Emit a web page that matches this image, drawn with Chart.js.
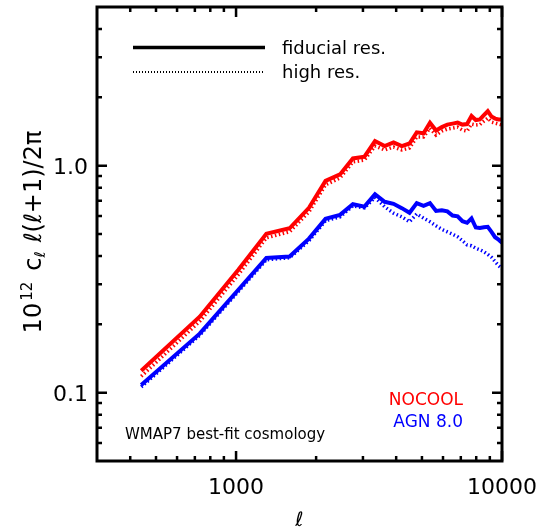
<!DOCTYPE html>
<html>
<head>
<meta charset="utf-8">
<script src="https://cdn.jsdelivr.net/npm/chart.js@4.4.0/dist/chart.umd.min.js"></script>
<style>
  html, body { margin: 0; padding: 0; background: #fff; }
</style>
</head>
<body>
<canvas id="cl-chart" width="541" height="530"></canvas>
<script>
/* ── DATA ── */
const ell = [440, 730, 1020, 1300, 1590, 1880, 2170, 2460, 2750, 3040, 3330, 3620,
             3910, 4200, 4490, 4780, 5070, 5360, 5650, 5940, 6230, 6520, 6810, 7100,
             7390, 7680, 7970, 8260, 8550, 8840, 9130, 9420, 9710, 10000];

const nocoolFid  = [0.125, 0.216, 0.348, 0.501, 0.530, 0.652, 0.857, 0.915, 1.076, 1.095, 1.284, 1.220,
                    1.267, 1.220, 1.252, 1.402, 1.388, 1.545, 1.428, 1.479, 1.517, 1.532, 1.548, 1.517,
                    1.525, 1.654, 1.588, 1.599, 1.670, 1.739, 1.645, 1.612, 1.599, 1.596];
const nocoolHigh = [0.118, 0.206, 0.331, 0.481, 0.511, 0.626, 0.823, 0.883, 1.038, 1.059, 1.220, 1.172,
                    1.208, 1.172, 1.196, 1.337, 1.337, 1.464, 1.364, 1.420, 1.450, 1.464, 1.479, 1.435,
                    1.420, 1.525, 1.510, 1.517, 1.572, 1.620, 1.556, 1.540, 1.525, 1.510];
const agnFid     = [0.108, 0.182, 0.284, 0.392, 0.398, 0.477, 0.583, 0.607, 0.676, 0.660, 0.749, 0.693,
                    0.679, 0.650, 0.620, 0.684, 0.665, 0.684, 0.632, 0.636, 0.629, 0.603, 0.598, 0.569,
                    0.560, 0.586, 0.534, 0.531, 0.535, 0.538, 0.511, 0.484, 0.472, 0.458];
const agnHigh    = [0.106, 0.179, 0.279, 0.385, 0.393, 0.467, 0.572, 0.595, 0.665, 0.652, 0.725, 0.659,
                    0.618, 0.595, 0.566, 0.613, 0.587, 0.566, 0.543, 0.524, 0.511, 0.499, 0.486, 0.467,
                    0.448, 0.444, 0.433, 0.426, 0.418, 0.407, 0.395, 0.378, 0.363, 0.352];

const xTickLabels = [1000, 10000];
const yTickLabels = [0.1, 1.0];
const xMinorTicks = [400, 500, 600, 700, 800, 900, 2000, 3000, 4000, 5000, 6000, 7000, 8000, 9000];
const yMinorTicks = [0.06, 0.07, 0.08, 0.09, 0.2, 0.3, 0.4, 0.5, 0.6, 0.7, 0.8, 0.9, 2, 3, 4];

const C = { red: '#FF0000', blue: '#0000FF', black: '#000000' };
const FONT = "'DejaVu Sans', sans-serif";

const pts = (vals) => vals.map((v, i) => ({ x: ell[i], y: v }));

// fixed axis box sizes, no label overhang padding
const fixBox = (prop, size) => (s) => {
  s[prop] = size;
  s.paddingLeft = s.paddingRight = s.paddingTop = s.paddingBottom = 0;
};

/* ── FRAME + INWARD TICKS (IDL style) ── */
const frameTicks = {
  id: 'frameTicks',
  afterDraw(chart) {
    const { ctx, chartArea: a, scales: { x, y } } = chart;
    ctx.save();
    ctx.strokeStyle = C.black;
    ctx.lineWidth = 2.5;
    ctx.beginPath();
    const xt = (v, len) => {
      const p = x.getPixelForValue(v);
      ctx.moveTo(p, a.bottom); ctx.lineTo(p, a.bottom - len);
      ctx.moveTo(p, a.top);    ctx.lineTo(p, a.top + len);
    };
    const yt = (v, len) => {
      const p = y.getPixelForValue(v);
      ctx.moveTo(a.left, p);  ctx.lineTo(a.left + len, p);
      ctx.moveTo(a.right, p); ctx.lineTo(a.right - len, p);
    };
    xTickLabels.forEach(v => xt(v, 10));
    xMinorTicks.forEach(v => xt(v, 5));
    yTickLabels.forEach(v => yt(v, 10));
    yMinorTicks.forEach(v => yt(v, 5));
    ctx.stroke();
    ctx.lineWidth = 3;
    ctx.strokeRect(a.left, a.top, a.right - a.left, a.bottom - a.top);
    ctx.restore();
  },
};

/* ── TEXT: axis titles, legend, annotations ── */
const annotations = {
  id: 'annotations',
  afterDraw(chart) {
    const { ctx, chartArea: a } = chart;
    ctx.save();
    ctx.fillStyle = C.black;
    ctx.textBaseline = 'alphabetic';

    // y title, rotated, built from pieces with super/subscripts
    const pieces = [
      { t: '10',         f: `24px ${FONT}`,        dy: 0,  gap: 2 },
      { t: '12',         f: `15px ${FONT}`,        dy: -9, gap: 11 },
      { t: 'c',          f: `24px ${FONT}`,        dy: 0,  gap: 0 },
      { t: 'ℓ',          f: `italic 15px ${FONT}`, dy: 4,  gap: 9 },
      { t: 'ℓ(ℓ+1)/2π',  f: `24px ${FONT}`,        dy: 0,  gap: 0 },
    ];
    let total = 0;
    pieces.forEach(p => { ctx.font = p.f; p.w = ctx.measureText(p.t).width; total += p.w + p.gap; });
    ctx.translate(41, 232);
    ctx.rotate(-Math.PI / 2);
    ctx.textAlign = 'left';
    let cx = -total / 2;
    pieces.forEach(p => { ctx.font = p.f; ctx.fillText(p.t, cx, p.dy); cx += p.w + p.gap; });
    ctx.setTransform(1, 0, 0, 1, 0, 0);

    // x title
    ctx.textAlign = 'center';
    ctx.font = `italic 20px ${FONT}`;
    ctx.fillText('ℓ', (a.left + a.right) / 2, 526);

    // line-style legend
    ctx.strokeStyle = C.black;
    ctx.lineWidth = 3.5;
    ctx.beginPath(); ctx.moveTo(133, 47.5); ctx.lineTo(265, 47.5); ctx.stroke();
    ctx.lineWidth = 2;
    ctx.setLineDash([1, 2]);
    ctx.beginPath(); ctx.moveTo(133, 72); ctx.lineTo(265, 72); ctx.stroke();
    ctx.setLineDash([]);
    ctx.textAlign = 'left';
    ctx.font = `18px ${FONT}`;
    ctx.fillText('fiducial res.', 282, 54);
    ctx.fillText('high res.', 282, 78);

    // model labels
    ctx.font = `15px ${FONT}`;
    ctx.fillText('WMAP7 best-fit cosmology', 125, 439);
    ctx.textAlign = 'right';
    ctx.font = `17px ${FONT}`;
    ctx.fillStyle = C.red;
    ctx.fillText('NOCOOL', 463, 405);
    ctx.fillStyle = C.blue;
    ctx.fillText('AGN 8.0', 463, 427);
    ctx.restore();
  },
};

const lineSet = (vals, color, dotted, order) => ({
  data: pts(vals),
  borderColor: color,
  borderWidth: dotted ? 3.5 : 4,
  borderDash: dotted ? [1.5, 2.5] : [],
  borderCapStyle: 'butt',
  pointRadius: 0,
  fill: false,
  tension: 0,
  order,
});

new Chart(document.getElementById('cl-chart'), {
  type: 'line',
  data: {
    datasets: [
      lineSet(nocoolFid,  C.red,  false, 0),
      lineSet(agnFid,     C.blue, false, 0),
      lineSet(nocoolHigh, C.red,  true,  1),
      lineSet(agnHigh,    C.blue, true,  1),
    ],
  },
  options: {
    responsive: false,
    devicePixelRatio: 1,
    animation: false,
    layout: { padding: { top: 7, right: 39, left: 0, bottom: 0 } },
    plugins: { legend: { display: false }, tooltip: { enabled: false } },
    scales: {
      x: {
        type: 'logarithmic',
        min: 300, max: 10000,
        grid: { display: false, drawTicks: false },
        border: { display: false },
        afterBuildTicks: s => { s.ticks = xTickLabels.map(v => ({ value: v })); },
        afterFit: fixBox('height', 69),
        ticks: {
          color: C.black, font: { family: 'DejaVu Sans', size: 22 },
          padding: 14, maxRotation: 0, autoSkip: false,
          callback: v => String(v),
        },
      },
      y: {
        type: 'logarithmic',
        min: 0.05, max: 5,
        grid: { display: false, drawTicks: false },
        border: { display: false },
        afterBuildTicks: s => { s.ticks = yTickLabels.map(v => ({ value: v })); },
        afterFit: fixBox('width', 97),
        ticks: {
          color: C.black, font: { family: 'DejaVu Sans', size: 22 },
          padding: 9, labelOffset: 3, autoSkip: false,
          callback: v => v.toFixed(1),
        },
      },
    },
  },
  plugins: [frameTicks, annotations],
});
</script>
</body>
</html>
